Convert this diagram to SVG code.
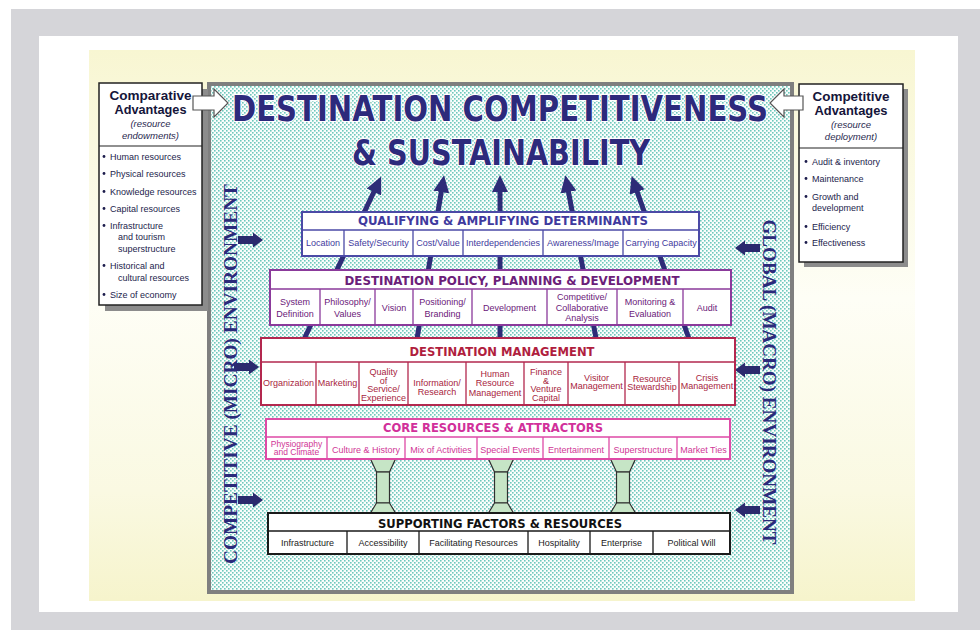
<svg xmlns="http://www.w3.org/2000/svg" width="980" height="636" viewBox="0 0 980 636">
  <defs>
    <linearGradient id="paper" x1="0" y1="0" x2="0" y2="1">
      <stop offset="0" stop-color="#f8f6d2"/>
      <stop offset="0.45" stop-color="#fefef6"/>
      <stop offset="0.8" stop-color="#faf9e2"/>
      <stop offset="1" stop-color="#f6f4cc"/>
    </linearGradient>
    <pattern id="dots" width="4" height="4" patternUnits="userSpaceOnUse">
      <rect width="4" height="4" fill="#fafdfc"/>
      <rect width="1.6" height="1.6" fill="#6ec8bc"/>
      <rect x="2" y="2" width="1.6" height="1.6" fill="#6ec8bc"/>
    </pattern>
    <marker id="head" viewBox="0 -8 17 16" markerWidth="17" markerHeight="16" refX="1" refY="0" orient="auto" markerUnits="userSpaceOnUse">
      <path d="M0,-8 L17,0 L0,8 z" fill="#2e2c78"/>
    </marker>
    <!-- solid block arrow, tip at origin, pointing right -->
    <path id="envArrow" d="M-25,-4 H-10 V-7.5 L0,0 L-10,7.5 V4 H-25 Z" fill="#2b2a6e"/>
    <!-- green column between the core and supporting layers -->
    <g id="pillar" fill="#c6e5c6" stroke="#2f2f2f" stroke-width="1.2">
      <path d="M-12.5,459 H12.5 L6.5,472 H-6.5 Z"/>
      <rect x="-6.5" y="472" width="13" height="31"/>
      <path d="M-6.5,503 H6.5 L12.5,513 H-12.5 Z"/>
    </g>
  </defs>
  <style>
    .ttl { font-family: "DejaVu Sans", Verdana, sans-serif; font-weight: bold; font-size: 13px; text-anchor: middle; }
    .lbl { font-family: "Liberation Sans", Arial, sans-serif; font-size: 9px; text-anchor: middle; }
    .lst { font-family: "Liberation Sans", Arial, sans-serif; font-size: 9px; fill: #1c1c4c; }
    .hdr { font-family: "Liberation Sans", Arial, sans-serif; font-weight: bold; font-size: 12px; text-anchor: middle; fill: #15153a; }
    .sub { font-family: "Liberation Sans", Arial, sans-serif; font-style: italic; font-size: 9.5px; text-anchor: middle; fill: #2a2a50; }
    .env { font-family: "Liberation Serif", "Times New Roman", serif; font-weight: bold; font-size: 19px; text-anchor: middle; fill: #2b2a7a; }
    .big { font-family: "DejaVu Sans", Verdana, sans-serif; font-weight: bold; font-size: 35px; text-anchor: middle; fill: #2d2a7c; stroke: #ffffff; stroke-width: 2; paint-order: stroke; }
    .cell { fill: none; stroke-width: 1.3; }
    .frame { fill: #ffffff; stroke-width: 2; }
  </style>

  <!-- page background -->
  <rect x="0" y="0" width="980" height="636" fill="#ffffff"/>
  <rect x="11" y="9" width="969" height="621" fill="#d5d5d9"/>
  <rect x="39" y="36" width="919" height="576" fill="#ffffff"/>
  <rect x="89" y="50" width="826" height="551" fill="url(#paper)"/>

  <!-- dotted field of the model -->
  <rect x="209" y="84" width="583" height="508" fill="url(#dots)" stroke="#7f7f7f" stroke-width="4"/>

  <!-- left panel -->
  <g id="comparative">
    <rect x="105" y="89" width="103" height="222" fill="#8c8c8c"/>
    <rect x="99" y="83" width="103" height="222" fill="#ffffff" stroke="#222222" stroke-width="1.5"/>
    <line x1="99" y1="146" x2="202" y2="146" stroke="#222222" stroke-width="1.2"/>
    <text class="hdr" x="150.5" y="100" textLength="82" lengthAdjust="spacingAndGlyphs">Comparative</text>
    <text class="hdr" x="150.5" y="114" textLength="72" lengthAdjust="spacingAndGlyphs">Advantages</text>
    <text class="sub" x="150.5" y="127">(resource</text>
    <text class="sub" x="150.5" y="139">endowments)</text>
    <g fill="#1c1c4c">
      <circle cx="104" cy="156.5" r="1.4"/>
      <circle cx="104" cy="173.5" r="1.4"/>
      <circle cx="104" cy="191.5" r="1.4"/>
      <circle cx="104" cy="208.5" r="1.4"/>
      <circle cx="104" cy="225.5" r="1.4"/>
      <circle cx="104" cy="265.5" r="1.4"/>
      <circle cx="104" cy="294.5" r="1.4"/>
    </g>
    <text class="lst" x="110" y="160">Human resources</text>
    <text class="lst" x="110" y="177">Physical resources</text>
    <text class="lst" x="110" y="195">Knowledge resources</text>
    <text class="lst" x="110" y="212">Capital resources</text>
    <text class="lst" x="110" y="229">Infrastructure</text>
    <text class="lst" x="118" y="240">and tourism</text>
    <text class="lst" x="118" y="252">superstructure</text>
    <text class="lst" x="110" y="269">Historical and</text>
    <text class="lst" x="118" y="281">cultural resources</text>
    <text class="lst" x="110" y="298">Size of economy</text>
  </g>

  <!-- right panel -->
  <g id="competitive">
    <rect x="804" y="89" width="104" height="178" fill="#8c8c8c"/>
    <rect x="799" y="84" width="104" height="178" fill="#ffffff" stroke="#222222" stroke-width="1.5"/>
    <line x1="799" y1="148" x2="903" y2="148" stroke="#222222" stroke-width="1.2"/>
    <text class="hdr" x="851" y="101" textLength="77" lengthAdjust="spacingAndGlyphs">Competitive</text>
    <text class="hdr" x="851" y="115" textLength="73" lengthAdjust="spacingAndGlyphs">Advantages</text>
    <text class="sub" x="851" y="128">(resource</text>
    <text class="sub" x="851" y="140">deployment)</text>
    <g fill="#1c1c4c">
      <circle cx="806" cy="161.5" r="1.4"/>
      <circle cx="806" cy="178.5" r="1.4"/>
      <circle cx="806" cy="196.5" r="1.4"/>
      <circle cx="806" cy="226.5" r="1.4"/>
      <circle cx="806" cy="242.5" r="1.4"/>
    </g>
    <text class="lst" x="812" y="165">Audit &amp; inventory</text>
    <text class="lst" x="812" y="182">Maintenance</text>
    <text class="lst" x="812" y="200">Growth and</text>
    <text class="lst" x="812" y="211">development</text>
    <text class="lst" x="812" y="230">Efficiency</text>
    <text class="lst" x="812" y="246">Effectiveness</text>
  </g>

  <!-- headline -->
  <g id="headline">
    <text class="big" x="500" y="121" textLength="536" lengthAdjust="spacingAndGlyphs">DESTINATION COMPETITIVENESS</text>
    <text class="big" x="501" y="165" textLength="298" lengthAdjust="spacingAndGlyphs">&amp; SUSTAINABILITY</text>
  </g>

  <!-- connectors -->
  <g id="connectors">
    <g fill="none" stroke="#2e2c78" stroke-width="5" marker-end="url(#head)">
      <path d="M301.3,345 L374.3,191"/>
      <path d="M416,345 L441.4,191"/>
      <path d="M500,345 L500,191"/>
      <path d="M597.3,345 L568.3,191"/>
      <path d="M691.2,345 L636.9,191"/>
    </g>
    <!-- environment pressures -->
    <use href="#envArrow" transform="translate(263,240)"/>
    <use href="#envArrow" transform="translate(259,367)"/>
    <use href="#envArrow" transform="translate(263,500)"/>
    <use href="#envArrow" transform="translate(735,248) scale(-1,1)"/>
    <use href="#envArrow" transform="translate(735,370) scale(-1,1)"/>
    <use href="#envArrow" transform="translate(735,510) scale(-1,1)"/>
    <!-- advantage inputs -->
    <path d="M193,96 H214 V89 L228,103 L214,117 V110 H193 Z" fill="#ffffff" stroke="#555555" stroke-width="1.2"/>
    <path d="M803,96 H784 V89 L770,103 L784,117 V110 H803 Z" fill="#ffffff" stroke="#555555" stroke-width="1.2"/>
  </g>

  <!-- columns -->
  <g id="pillars">
    <use href="#pillar" x="383"/>
    <use href="#pillar" x="501"/>
    <use href="#pillar" x="623"/>
  </g>

  <g id="qualifying">
    <rect class="frame" x="302" y="212" width="397" height="44" stroke="#4b4aa6"/>
    <path class="cell" stroke="#4b4aa6" d="M302,230 H699 M344,230 V256 M413,230 V256 M463,230 V256 M543,230 V256 M623,230 V256"/>
    <text class="ttl" x="503" y="225" textLength="290" lengthAdjust="spacingAndGlyphs" fill="#3f3a9e">QUALIFYING &amp; AMPLIFYING DETERMINANTS</text>
    <g class="lbl" fill="#3f3a9e">
      <text x="323" y="246">Location</text>
      <text x="378.5" y="246">Safety/Security</text>
      <text x="438" y="246">Cost/Value</text>
      <text x="503" y="246">Interdependencies</text>
      <text x="583" y="246">Awareness/Image</text>
      <text x="661" y="246">Carrying Capacity</text>
    </g>
  </g>

  <g id="policy">
    <rect class="frame" x="270" y="270" width="461" height="55" stroke="#8b3a9b"/>
    <path class="cell" stroke="#8b3a9b" d="M270,289 H731 M320,289 V325 M375,289 V325 M413,289 V325 M472,289 V325 M547,289 V325 M617,289 V325 M683,289 V325"/>
    <text class="ttl" x="512" y="285" textLength="335" lengthAdjust="spacingAndGlyphs" fill="#6b2079">DESTINATION POLICY, PLANNING &amp; DEVELOPMENT</text>
    <g class="lbl" fill="#6b2079">
      <text x="295" y="305">System</text>
      <text x="295" y="317">Definition</text>
      <text x="347.5" y="305">Philosophy/</text>
      <text x="347.5" y="317">Values</text>
      <text x="394" y="311">Vision</text>
      <text x="442.5" y="305">Positioning/</text>
      <text x="442.5" y="317">Branding</text>
      <text x="509.5" y="311">Development</text>
      <text x="582" y="300">Competitive/</text>
      <text x="582" y="311">Collaborative</text>
      <text x="582" y="321">Analysis</text>
      <text x="650" y="305">Monitoring &amp;</text>
      <text x="650" y="317">Evaluation</text>
      <text x="707" y="311">Audit</text>
    </g>
  </g>

  <g id="management">
    <rect class="frame" x="261" y="338" width="474" height="67" stroke="#b3284f"/>
    <path class="cell" stroke="#b3284f" d="M261,362 H735 M316,362 V405 M359,362 V405 M408,362 V405 M466,362 V405 M524,362 V405 M568,362 V405 M625,362 V405 M679,362 V405"/>
    <text class="ttl" x="502" y="356" textLength="185" lengthAdjust="spacingAndGlyphs" fill="#b01e3e">DESTINATION MANAGEMENT</text>
    <g class="lbl" fill="#a81e40">
      <text x="288.5" y="386">Organization</text>
      <text x="337.5" y="386">Marketing</text>
      <text x="383.5" y="375">Quality</text>
      <text x="383.5" y="383.5">of</text>
      <text x="383.5" y="392">Service/</text>
      <text x="383.5" y="400.5">Experience</text>
      <text x="437" y="386">Information/</text>
      <text x="437" y="395">Research</text>
      <text x="495" y="377">Human</text>
      <text x="495" y="386">Resource</text>
      <text x="495" y="395.5">Management</text>
      <text x="546" y="375">Finance</text>
      <text x="546" y="383.5">&amp;</text>
      <text x="546" y="392">Venture</text>
      <text x="546" y="400.5">Capital</text>
      <text x="596.5" y="381">Visitor</text>
      <text x="596.5" y="389">Management</text>
      <text x="652" y="382">Resource</text>
      <text x="652" y="390">Stewardship</text>
      <text x="707" y="381">Crisis</text>
      <text x="707" y="389">Management</text>
    </g>
  </g>

  <g id="core">
    <rect class="frame" x="266" y="419" width="464" height="40" stroke="#de4aa6"/>
    <path class="cell" stroke="#de4aa6" d="M266,437 H730 M327,437 V459 M405,437 V459 M477,437 V459 M543,437 V459 M609,437 V459 M677,437 V459"/>
    <text class="ttl" x="493" y="432" font-size="12" textLength="220" lengthAdjust="spacingAndGlyphs" fill="#d1309a">CORE RESOURCES &amp; ATTRACTORS</text>
    <g class="lbl" fill="#d03696">
      <text x="296.5" y="447" font-size="8.5">Physiography</text>
      <text x="296.5" y="455" font-size="8.5">and Climate</text>
      <text x="366" y="453">Culture &amp; History</text>
      <text x="441" y="453">Mix of Activities</text>
      <text x="510" y="453">Special Events</text>
      <text x="576" y="453">Entertainment</text>
      <text x="643" y="453">Superstructure</text>
      <text x="703.5" y="453">Market Ties</text>
    </g>
  </g>

  <g id="supporting">
    <rect class="frame" x="268" y="513" width="462" height="41" stroke="#1a1a1a"/>
    <path class="cell" stroke="#1a1a1a" d="M268,531 H730 M347,531 V554 M419,531 V554 M528,531 V554 M590,531 V554 M653,531 V554"/>
    <text class="ttl" x="500" y="528" textLength="244" lengthAdjust="spacingAndGlyphs" fill="#111111">SUPPORTING FACTORS &amp; RESOURCES</text>
    <g class="lbl" fill="#222222">
      <text x="307.5" y="546">Infrastructure</text>
      <text x="383" y="546">Accessibility</text>
      <text x="473.5" y="546">Facilitating Resources</text>
      <text x="559" y="546">Hospitality</text>
      <text x="621.5" y="546">Enterprise</text>
      <text x="691.5" y="546">Political Will</text>
    </g>
  </g>

  <!-- environment captions -->
  <text class="env" transform="translate(237,374) rotate(-90)" textLength="380" lengthAdjust="spacingAndGlyphs">COMPETITIVE (MICRO) ENVIRONMENT</text>
  <text class="env" transform="translate(763,382) rotate(90)" textLength="325" lengthAdjust="spacingAndGlyphs">GLOBAL (MACRO) ENVIRONMENT</text>
</svg>
